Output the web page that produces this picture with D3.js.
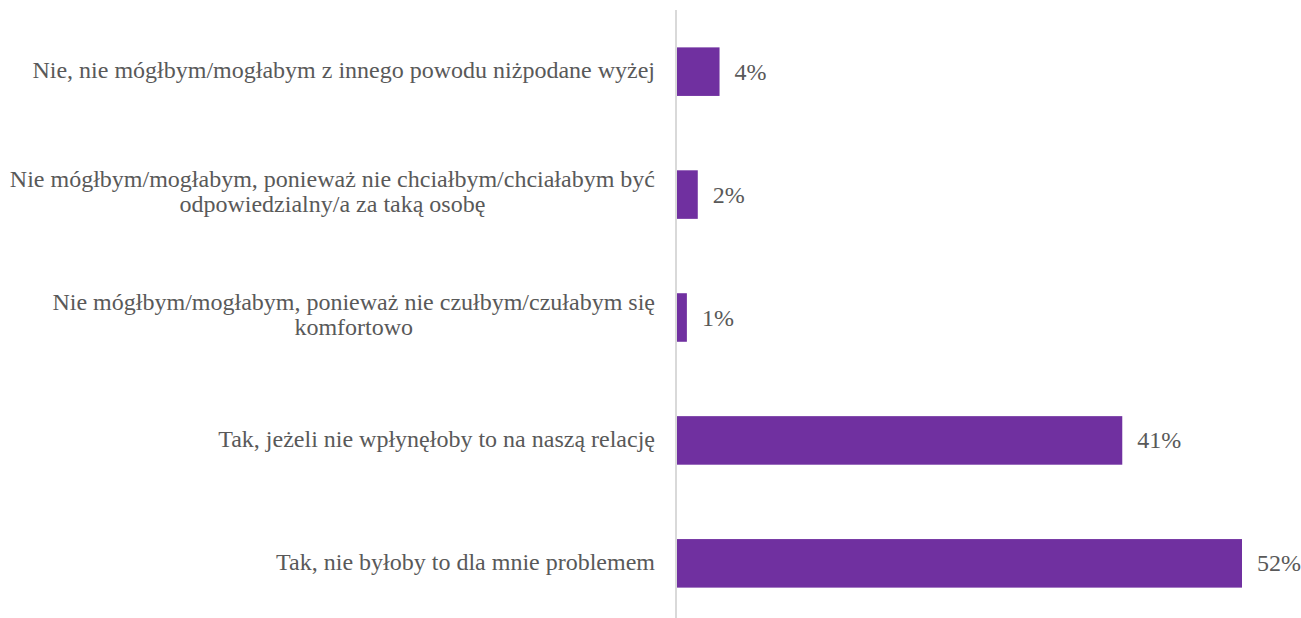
<!DOCTYPE html>
<html>
<head>
<meta charset="utf-8">
<script src="https://cdn.jsdelivr.net/npm/d3@7"></script>
<style>
  html, body { margin: 0; padding: 0; background: #fff; }
  svg { display: block; }
</style>
</head>
<body>
<svg id="chart" width="1301" height="618"></svg>
<script>
// Answer categories (top to bottom), each as one or more label lines
const categories = [
  ["Nie, nie mógłbym/mogłabym z innego powodu niżpodane wyżej"],
  ["Nie mógłbym/mogłabym, ponieważ nie chciałbym/chciałabym być", "odpowiedzialny/a za taką osobę"],
  ["Nie mógłbym/mogłabym, ponieważ nie czułbym/czułabym się", "komfortowo"],
  ["Tak, jeżeli nie wpłynęłoby to na naszą relację"],
  ["Tak, nie byłoby to dla mnie problemem"]
];
const values = [4, 2, 1, 41, 52];
const valueLabels = ["4%", "2%", "1%", "41%", "52%"];

const FONT = "Liberation Serif";
const TEXT_COLOR = "#595959";
const svg = d3.select("#chart");
const axisX = 676;
const labelRight = 655;
const fontSize = 24;

const x = d3.scaleLinear().domain([0, 52]).range([axisX, 1242]);
const y = d3.scaleBand()
  .domain(d3.range(categories.length))
  .range([10.5, 624.5])
  .paddingInner(0.605)
  .paddingOuter(0.3);

// Bars
svg.selectAll("rect.bar")
  .data(values)
  .join("rect")
  .attr("class", "bar")
  .attr("x", x(0))
  .attr("y", (d, i) => y(i))
  .attr("width", d => x(d) - x(0))
  .attr("height", y.bandwidth())
  .attr("fill", "#7030A0");

// Vertical category axis line
svg.append("line")
  .attr("x1", axisX).attr("x2", axisX)
  .attr("y1", 10).attr("y2", 618)
  .attr("stroke", "#d9d9d9")
  .attr("stroke-width", 2);

// Value labels
svg.selectAll("text.val")
  .data(values)
  .join("text")
  .attr("class", "val")
  .attr("x", d => x(d) + 15)
  .attr("y", (d, i) => y(i) + y.bandwidth() / 2 + 8)
  .style("font-family", FONT)
  .attr("font-size", fontSize)
  .attr("fill", TEXT_COLOR)
  .text((d, i) => valueLabels[i]);

// Category labels: lines centred on each other, block right-aligned to the axis
const lineH = 25.5;
categories.forEach((lines, i) => {
  const g = svg.append("text")
    .style("font-family", FONT)
    .attr("font-size", fontSize)
    .attr("fill", TEXT_COLOR)
    .attr("text-anchor", "middle");
  const cy = y(i) + y.bandwidth() / 2;
  const first = lines.length === 1 ? cy + 6.7 : cy - 7.8;
  const spans = lines.map((ln, k) => g.append("tspan")
    .attr("y", first + k * lineH)
    .text(ln));
  const w = d3.max(spans, s => s.node().getComputedTextLength());
  spans.forEach(s => s.attr("x", labelRight - w / 2));
});
</script>
</body>
</html>
